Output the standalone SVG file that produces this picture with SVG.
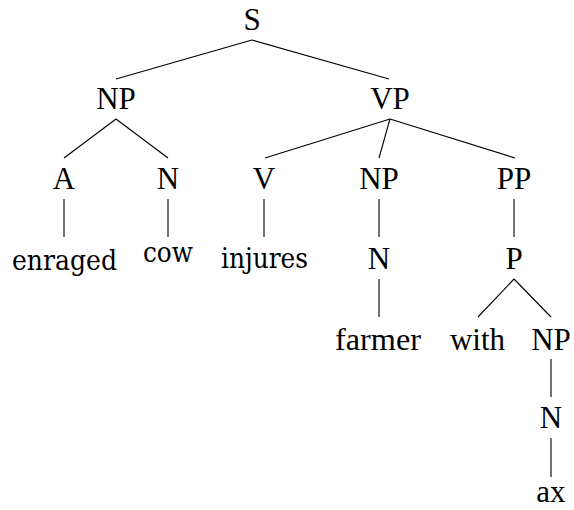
<svg xmlns="http://www.w3.org/2000/svg" width="574" height="510" viewBox="0 0 574 510">
<style>
.l{font-family:"Liberation Serif","Times New Roman",serif;font-size:31px;fill:#000;text-anchor:middle}
.w{font-family:"DejaVu Serif",serif;font-size:28px;fill:#000;text-anchor:middle}
.c line{stroke:#000;stroke-width:1.1}
</style>
<rect width="574" height="510" fill="#fff"/>
<g class="c" id="connectors">
<line x1="252" y1="40" x2="116" y2="79"/>
<line x1="252" y1="40" x2="389" y2="79"/>
<line x1="116" y1="119" x2="64" y2="158"/>
<line x1="116" y1="119" x2="168" y2="158"/>
<line x1="390" y1="119" x2="265" y2="158"/>
<line x1="390" y1="119" x2="379" y2="158"/>
<line x1="390" y1="119" x2="515" y2="158"/>
<line x1="64" y1="199" x2="64" y2="237"/>
<line x1="168" y1="199" x2="168" y2="237"/>
<line x1="264" y1="199" x2="264" y2="237"/>
<line x1="379" y1="199" x2="379" y2="237"/>
<line x1="514" y1="199" x2="514" y2="237"/>
<line x1="379" y1="279" x2="379" y2="317"/>
<line x1="514" y1="279" x2="478" y2="317"/>
<line x1="514" y1="279" x2="551" y2="317"/>
<line x1="551" y1="359" x2="551" y2="397"/>
<line x1="551" y1="438" x2="551" y2="477"/>
</g>
<g id="S"><text class="l" x="252" y="30">S</text></g>
<g id="NP1"><text class="l" x="116" y="109">NP</text></g>
<g id="VP"><text class="l" x="390" y="109">VP</text></g>
<g id="A"><text class="l" x="64" y="189">A</text></g>
<g id="N1"><text class="l" x="168" y="189">N</text></g>
<g id="V"><text class="l" x="264" y="189">V</text></g>
<g id="NP2"><text class="l" x="379" y="189">NP</text></g>
<g id="PP"><text class="l" x="514" y="189">PP</text></g>
<g id="enraged"><text class="w" x="64.5" y="270" textLength="105" lengthAdjust="spacingAndGlyphs">enraged</text></g>
<g id="cow"><text class="w" x="168" y="262" textLength="50" lengthAdjust="spacingAndGlyphs">cow</text></g>
<g id="injures"><text class="w" x="264.5" y="268" textLength="87" lengthAdjust="spacingAndGlyphs">injures</text></g>
<g id="N2"><text class="l" x="379" y="269">N</text></g>
<g id="P"><text class="l" x="514" y="269">P</text></g>
<g id="farmer"><text class="l" x="378" y="350" textLength="86" lengthAdjust="spacingAndGlyphs">farmer</text></g>
<g id="with"><text class="l" x="477.5" y="350">with</text></g>
<g id="NP3"><text class="l" x="551" y="350">NP</text></g>
<g id="N3"><text class="l" x="551" y="428">N</text></g>
<g id="ax"><text class="l" x="551" y="502">ax</text></g>
</svg>
